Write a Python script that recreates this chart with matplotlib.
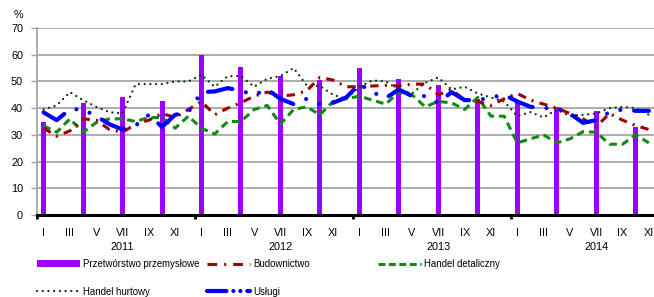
import numpy as np
import matplotlib
matplotlib.use("Agg")
import matplotlib.pyplot as plt
from matplotlib.lines import Line2D
from matplotlib.patches import Patch

plt.rcParams["font.family"] = ["Liberation Sans", "DejaVu Sans"]
plt.rcParams["lines.scale_dashes"] = False

# ── Data (monthly, Jan 2011 .. Nov 2014) ─────────────────────────────────────
month_labels = ["I", "III", "V", "VII", "IX", "XI"] * 4
years = ["2011", "2012", "2013", "2014"]

bar_months = [0, 3, 6, 9, 12, 15, 18, 21, 24, 27, 30, 33, 36, 39, 42, 45]
przetworstwo = [35, 42, 44.3, 42.6, 60, 55.4, 52, 50.4,
                55, 50.8, 48.5, 43.5, 42.3, 40.4, 39.1, 32.9]

budownictwo = [32.5, 29.5, 31.5, 36, 35.5, 32, 31, 34, 35.5, 38, 36.5, 39.5,
               42.5, 37.5, 40, 42, 44.5, 46, 44.5, 45, 46.5, 51.5, 50.5, 48,
               48, 48.3, 48.5, 48.3, 49, 49, 45, 47, 43, 42.5, 41, 43.5,
               45.5, 43, 41.5, 40, 38, 36, 33, 38, 35.5, 33.5, 32]

detaliczny = [33.4, 31, 36, 31, 34.6, 36, 36, 35, 36.5, 36.5, 32.5, 37,
              32.5, 30.3, 35, 35, 39.5, 41, 34, 39.5, 40.5, 37.5, 42.5, 43.5,
              44.5, 43, 41.5, 46, 45, 40.5, 42.5, 42, 39.5, 44, 37, 37,
              27, 28.5, 30, 27, 28.5, 31.2, 31, 26.5, 26.5, 30, 27]

hurtowy = [39.5, 41, 46, 43, 40.5, 38.5, 38, 49, 49, 49, 50, 50,
           52.5, 48, 52, 52, 48, 51, 52, 55, 48.5, 48.3, 45, 43.5,
           48, 50.4, 50, 47, 45.5, 49.5, 51.5, 47, 48, 45.5, 44, 42.5,
           37, 38.5, 36.5, 39.5, 37, 37.5, 38, 40, 40.5, 40, 37.5]

uslugi = [38.4, 35.5, 39.6, 39.5, 37, 34, 32, 33.5, 37.5, 33, 37.5, 38.5,
          46, 46.25, 47.5, 46.5, 45, 47, 43.5, 41.5, 43.5, 41.5, 42, 44,
          49, 46, 43.75, 47, 44.5, 44.5, 42, 46, 43, 43, 44, 45,
          42.5, 40.5, 40, 40, 38, 34.5, 35.5, 38.5, 39.5, 39, 39]

months = np.arange(len(hurtowy))

# ── Colours ──────────────────────────────────────────────────────────────────
C_BAR = "#9900ff"
C_BUD = "#a00000"
C_DET = "#118a11"
C_HUR = "#0d3a0d"
C_USL = "#0000ff"
C_GRID = "#a6a6a6"

DASH_BUD = (0, (6, 4.5, 1.5, 4.5))
DASH_DET = (0, (5.5, 3.5))
DASH_HUR = (0, (0.01, 4.1))
DASH_USL = (0, (18, 10, 0.01, 10, 0.01, 10))

FS = 7.8
FS_LEG = 6.9

fig = plt.figure(figsize=(6.54, 2.97), dpi=100)
W, H = 654, 297
x0, x1 = 37, 668.6
ax = fig.add_axes([x0 / W, (H - 215) / H, (x1 - x0) / W, 187 / H])

ax.bar(bar_months, przetworstwo, width=0.38, color=C_BAR, zorder=2)

ax.plot(months, hurtowy, color=C_HUR, lw=1.7, ls=DASH_HUR,
        dash_capstyle="round", zorder=3)
ax.plot(months, detaliczny, color=C_DET, lw=2.2, ls=DASH_DET,
        dash_capstyle="butt", zorder=3)
ax.plot(months, budownictwo, color=C_BUD, lw=2.2, ls=DASH_BUD,
        dash_capstyle="butt", zorder=3)
ax.plot(months, uslugi, color=C_USL, lw=3.0, ls=DASH_USL,
        dash_capstyle="round", zorder=4)

ax.set_xlim(-0.5, 47.5)
ax.set_ylim(0, 70)
ax.set_yticks(np.arange(0, 71, 10))
ax.yaxis.grid(True, color=C_GRID, lw=1.3)
ax.set_axisbelow(True)

ax.set_xticks(np.arange(0, 48, 2))
ax.set_xticklabels(month_labels)
ax.set_xticks([-0.5, 11.5, 23.5, 35.5, 47.5], minor=True)
ax.tick_params(axis="x", which="major", length=0, pad=9, labelsize=FS)
ax.tick_params(axis="x", which="minor", length=3, width=2, color="black")
ax.tick_params(axis="y", length=4, color=C_GRID, width=1, labelsize=FS, pad=6)

for s in ["top", "right"]:
    ax.spines[s].set_visible(False)
ax.spines["left"].set_color(C_GRID)
ax.spines["left"].set_linewidth(1.3)
ax.spines["bottom"].set_color("black")
ax.spines["bottom"].set_linewidth(2.2)
ax.spines["bottom"].set_zorder(5)

for i, yr in enumerate(years):
    ax.text(6 + 12 * i, -0.171, yr, transform=ax.get_xaxis_transform(),
            ha="center", va="center", fontsize=FS)

fig.text(18 / W, 1 - 15 / H, "%", ha="center", va="center", fontsize=FS)

# ── Legend: three columns placed like the original ───────────────────────────
h_bar = Patch(facecolor=C_BAR, edgecolor="none")
h_hur = Line2D([], [], color=C_HUR, lw=1.7, ls=DASH_HUR, dash_capstyle="round")
h_bud = Line2D([], [], color=C_BUD, lw=2.2, ls=(0, (7, 5, 1.5, 5)))
h_usl = Line2D([], [], color=C_USL, lw=3.0, ls=(0, (14, 5, 0.01, 5, 0.01, 5)),
               dash_capstyle="round")
h_det = Line2D([], [], color=C_DET, lw=2.2, ls=(0, (5, 2.5)))

common = dict(loc="upper left", frameon=False, fontsize=FS_LEG, borderpad=0,
              borderaxespad=0, handlelength=4.5, handleheight=0.65,
              handletextpad=0.3, labelspacing=1.85)
fig.legend([h_bar, h_hur], ["Przetwórstwo przemysłowe", "Handel hurtowy"],
           bbox_to_anchor=(37 / W, 1 - 259 / H), **common)
fig.legend([h_bud, h_usl], ["Budownictwo", "Usługi"],
           bbox_to_anchor=(207 / W, 1 - 259 / H), **common)
fig.legend([h_det], ["Handel detaliczny"],
           bbox_to_anchor=(378 / W, 1 - 259 / H), **common)

fig.savefig("out.png", dpi=100)
